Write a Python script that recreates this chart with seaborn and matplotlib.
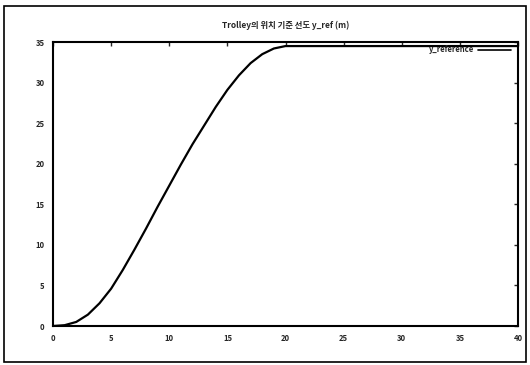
import matplotlib
matplotlib.use('Agg')
import matplotlib.pyplot as plt
import seaborn as sns
import pandas as pd
from matplotlib.patches import Rectangle

# values
time_s = [0, 1, 2, 3, 4, 5, 6, 7, 8, 9, 10, 11, 12, 13, 14, 15, 16, 17, 18, 19,
          20, 21, 25, 30, 35, 40]
y_ref = [0, 0.1, 0.5, 1.4, 2.8, 4.6, 6.9, 9.4, 12.0, 14.7, 17.3, 19.9, 22.4,
         24.7, 27.0, 29.1, 30.9, 32.4, 33.5, 34.2, 34.5, 34.5, 34.5, 34.5,
         34.5, 34.5]
x_ticks = [0, 5, 10, 15, 20, 25, 30, 35, 40]
y_ticks = [0, 5, 10, 15, 20, 25, 30, 35]

df = pd.DataFrame({'x': time_s, 'y_reference': y_ref})

sns.set_style('white')
plt.rcParams['font.family'] = ['Noto Sans CJK KR', 'DejaVu Sans']

fig = plt.figure(figsize=(5.3, 3.65), dpi=100)
ax = fig.add_axes([53 / 530, 1 - 326 / 365, 465 / 530, 284 / 365])

sns.lineplot(data=df, x='x', y='y_reference', color='black', linewidth=1.6,
             ax=ax, legend=False)

ax.set_xlim(0, 40)
ax.set_ylim(0, 35)
ax.set_xticks(x_ticks)
ax.set_yticks(y_ticks)
ax.tick_params(direction='in', length=3, width=1, top=True, right=True,
               labelsize=5.5, pad=6)
for lbl in ax.get_xticklabels() + ax.get_yticklabels():
    lbl.set_fontweight('bold')
ax.set_xlabel('')
ax.set_ylabel('')
for s in ax.spines.values():
    s.set_linewidth(1.5)
    s.set_color('black')

ax.set_title('Trolley의 위치 기준 선도 y_ref (m)', fontsize=6, fontweight='bold',
             pad=10)

# gnuplot-style key: label then line sample
ax.text(0.905, 0.972, 'y_reference', transform=ax.transAxes, ha='right',
        va='center', fontsize=5.5, fontweight='bold')
ax.plot([0.915, 0.985], [0.972, 0.972], transform=ax.transAxes,
        color='black', linewidth=1.2)

# scan frame
fig.patches.append(Rectangle((0.008, 0.008), 0.985, 0.975,
                             transform=fig.transFigure, fill=False,
                             edgecolor='black', linewidth=1.2))

fig.savefig('out.png', dpi=100)
